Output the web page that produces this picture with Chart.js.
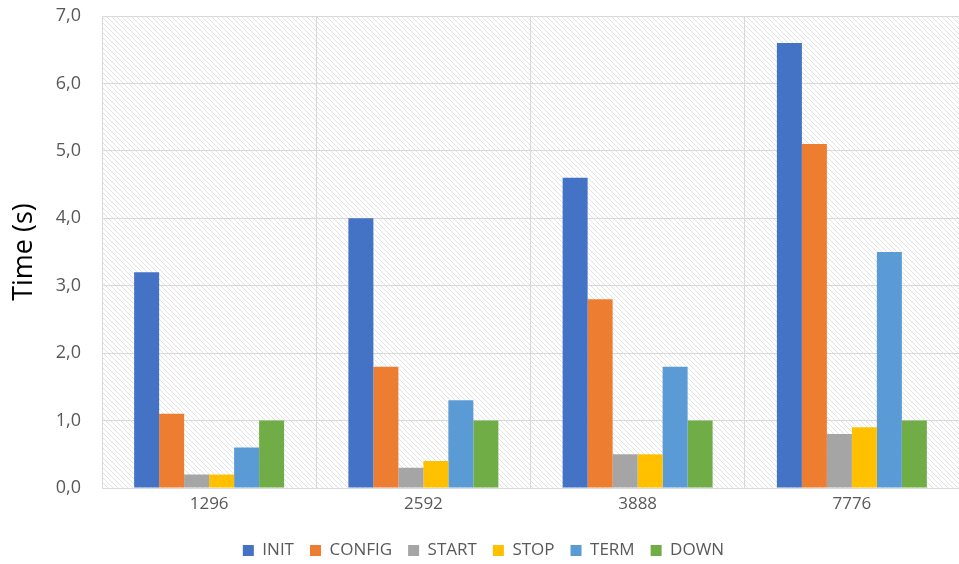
<!DOCTYPE html>
<html>
<head>
<meta charset="utf-8">
<script src="https://cdn.jsdelivr.net/npm/chart.js@4.4.0/dist/chart.umd.min.js"></script>
<style>
  html, body { margin: 0; padding: 0; background: #fff; }
  #wrap { width: 959px; height: 564px; }
</style>
</head>
<body>
<div id="wrap"><canvas id="myChart" width="959" height="564"></canvas></div>
<script>
// data
const categories = ['1296', '2592', '3888', '7776'];
const series_names = ['INIT', 'CONFIG', 'START', 'STOP', 'TERM', 'DOWN'];
const init_vals = [3.2, 4.0, 4.6, 6.6];
const config_vals = [1.1, 1.8, 2.8, 5.1];
const start_vals = [0.2, 0.3, 0.5, 0.8];
const stop_vals = [0.2, 0.4, 0.5, 0.9];
const term_vals = [0.6, 1.3, 1.8, 3.5];
const down_vals = [1.0, 1.0, 1.0, 1.0];
const y_min = 0, y_max = 7, y_step = 1;

const colors = ['#4472C4', '#ED7D31', '#A5A5A5', '#FFC000', '#5B9BD5', '#70AD47'];
const all_vals = [init_vals, config_vals, start_vals, stop_vals, term_vals, down_vals];

const FONT = "'Open Sans', 'Liberation Sans', sans-serif";

// hatched plot background
function makeHatch(ctx) {
    const c = document.createElement('canvas');
    c.width = 5; c.height = 5;
    const p = c.getContext('2d');
    p.fillStyle = '#ffffff';
    p.fillRect(0, 0, 5, 5);
    p.strokeStyle = '#e3e3e3';
    p.lineWidth = 1;
    p.beginPath();
    p.moveTo(-1, -1); p.lineTo(6, 6);
    p.moveTo(-1, 4); p.lineTo(1, 6);
    p.moveTo(4, -1); p.lineTo(6, 1);
    p.stroke();
    return ctx.createPattern(c, 'repeat');
}

const hatchPlugin = {
    id: 'hatch',
    beforeDraw(chart) {
        const { ctx, chartArea } = chart;
        ctx.save();
        ctx.fillStyle = makeHatch(ctx);
        ctx.fillRect(chartArea.left, chartArea.top, chartArea.right - chartArea.left, chartArea.bottom - chartArea.top);
        ctx.restore();
    }
};

const ctx = document.getElementById('myChart').getContext('2d');

var data = {
    labels: categories,
    datasets: series_names.map((name, i) => ({
        label: name,
        data: all_vals[i],
        backgroundColor: colors[i],
        borderWidth: 0,
        categoryPercentage: 0.7,
        barPercentage: 1.0
    }))
};

const options = {
    responsive: false,
    animation: false,
    layout: { padding: { top: 16, right: 0, left: 8, bottom: -5 } },
    plugins: {
        legend: {
            position: 'bottom',
            labels: {
                boxWidth: 11,
                boxHeight: 11,
                padding: 16,
                color: '#595959',
                font: { family: FONT, size: 17 }
            }
        },
        tooltip: { enabled: false }
    },
    scales: {
        x: {
            grid: { color: '#d9d9d9', offset: true, drawTicks: false },
            border: { color: '#d9d9d9' },
            ticks: { color: '#595959', padding: 6, font: { family: FONT, size: 17 } },
            afterFit: (scale) => { scale.height = 38; }
        },
        y: {
            min: y_min,
            max: y_max,
            grid: { color: '#d9d9d9', drawTicks: false },
            border: { display: false },
            ticks: {
                stepSize: y_step,
                color: '#595959',
                padding: 21,
                font: { family: FONT, size: 18 },
                callback: (v) => v.toFixed(1).replace('.', ',')
            },
            title: {
                display: true,
                text: 'Time (s)',
                color: '#000000',
                font: { family: FONT, size: 27 },
                padding: { top: 0, bottom: 0 }
            },
            afterFit: (scale) => {
                scale.width = 94;
                scale.paddingTop = 0;
                scale.paddingBottom = 0;
            }
        }
    }
};

const myChart = new Chart(ctx, {
    type: 'bar',
    data: data,
    options: options,
    plugins: [hatchPlugin]
});
</script>
</body>
</html>
